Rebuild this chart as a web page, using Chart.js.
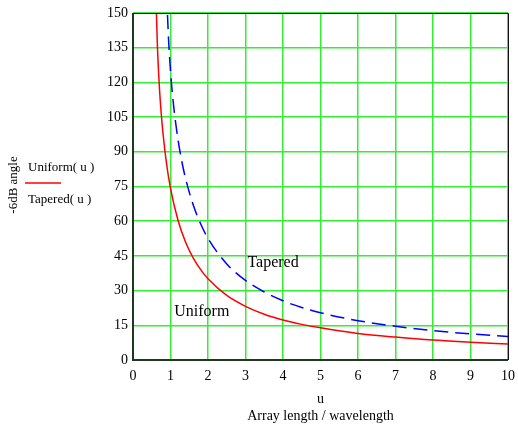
<!DOCTYPE html>
<html>
<head>
<meta charset="utf-8">
<script src="https://cdn.jsdelivr.net/npm/chart.js@4.4.1/dist/chart.umd.min.js"></script>
<style>
  html, body { margin: 0; padding: 0; background: #ffffff; }
  #wrap { width: 518px; height: 424px; }
</style>
</head>
<body>
<div id="wrap"><canvas id="beamChart" width="518" height="424"></canvas></div>
<script>
// values (u = array length / wavelength, angle in degrees)
const uniformU = [0.625, 0.65, 0.7, 0.75, 0.8, 0.9, 1.0, 1.2, 1.4, 1.6, 1.8, 2.0, 2.5, 3.0, 3.5, 4.0, 4.5, 5.0, 6.0, 7.0, 8.0, 9.0, 10.0];
const uniformDeg = [149.6, 136.2, 119.0, 107.1, 97.9, 84.2, 74.2, 60.4, 51.0, 44.3, 39.2, 35.1, 27.9, 23.2, 19.8, 17.3, 15.4, 13.9, 11.5, 9.9, 8.6, 7.7, 6.9];

const taperedU = [0.92, 0.95, 1.0, 1.05, 1.1, 1.2, 1.3, 1.4, 1.6, 1.8, 2.0, 2.5, 3.0, 3.5, 4.0, 4.5, 5.0, 6.0, 7.0, 8.0, 9.0, 10.0];
const taperedDeg = [149.1, 138.0, 124.9, 115.2, 107.4, 95.3, 86.0, 78.6, 67.3, 59.0, 52.6, 41.5, 34.4, 29.4, 25.6, 22.7, 20.4, 17.0, 14.6, 12.7, 11.3, 10.2];

const xTicks = [0, 1, 2, 3, 4, 5, 6, 7, 8, 9, 10];
const yTicks = [0, 15, 30, 45, 60, 75, 90, 105, 120, 135, 150];

const serif = '"Liberation Serif", "Times New Roman", serif';

function toPoints(xs, ys) {
    return xs.map((x, i) => ({ x: x, y: ys[i] }));
}

const extras = {
    id: 'extras',
    afterDraw(chart) {
        const ctx = chart.ctx;
        const a = chart.chartArea;
        const xs = chart.scales.x;
        const ys = chart.scales.y;
        ctx.save();

        // frame: top and right thin, left/bottom heavier
        ctx.strokeStyle = '#111111';
        ctx.lineWidth = 1;
        ctx.beginPath();
        ctx.moveTo(a.left, a.top + 0.5);
        ctx.lineTo(a.right + 0.5, a.top + 0.5);
        ctx.lineTo(a.right + 0.5, a.bottom);
        ctx.stroke();
        ctx.strokeStyle = '#1e3a1e';
        ctx.lineWidth = 2;
        ctx.beginPath();
        ctx.moveTo(a.left, a.top);
        ctx.lineTo(a.left, a.bottom);
        ctx.lineTo(a.right, a.bottom);
        ctx.stroke();

        ctx.fillStyle = '#000000';
        ctx.font = '16px ' + serif;
        ctx.textBaseline = 'middle';
        ctx.textAlign = 'left';
        ctx.fillText('Tapered', xs.getPixelForValue(3.05), ys.getPixelForValue(42));
        ctx.fillText('Uniform', xs.getPixelForValue(1.1), ys.getPixelForValue(21));

        // x title
        ctx.textAlign = 'center';
        ctx.font = '14px ' + serif;
        const cx = (a.left + a.right) / 2;
        ctx.fillText('u', cx, 399);
        ctx.fillText('Array length / wavelength', cx, 416);

        // y title
        ctx.font = '13px ' + serif;
        ctx.save();
        ctx.translate(14, 185);
        ctx.rotate(-Math.PI / 2);
        ctx.fillText('-6dB angle', 0, 0);
        ctx.restore();

        // legend
        ctx.textAlign = 'left';
        ctx.fillText('Uniform( u )', 28, 168);
        ctx.fillText('Tapered( u )', 28, 200);
        ctx.strokeStyle = '#ff0000';
        ctx.lineWidth = 1.5;
        ctx.beginPath();
        ctx.moveTo(25, 183);
        ctx.lineTo(61, 183);
        ctx.stroke();

        ctx.restore();
    }
};

new Chart(document.getElementById('beamChart'), {
    type: 'line',
    data: {
        datasets: [
            {
                label: 'Uniform(u)',
                data: toPoints(uniformU, uniformDeg),
                borderColor: '#ff0000',
                borderWidth: 1.5,
                pointRadius: 0,
                cubicInterpolationMode: 'monotone',
                fill: false
            },
            {
                label: 'Tapered(u)',
                data: toPoints(taperedU, taperedDeg),
                borderColor: '#0000ff',
                borderWidth: 1.5,
                borderDash: [14, 7],
                pointRadius: 0,
                cubicInterpolationMode: 'monotone',
                fill: false
            }
        ]
    },
    options: {
        responsive: false,
        animation: false,
        layout: { padding: { top: 13, right: 10, left: 0, bottom: 0 } },
        plugins: {
            legend: { display: false },
            tooltip: { enabled: false }
        },
        scales: {
            x: {
                type: 'linear',
                min: 0,
                max: 10,
                afterBuildTicks: s => { s.ticks = xTicks.map(v => ({ value: v })); },
                afterFit: s => { s.height = 64; s.paddingRight = 0; s.paddingLeft = 0; },
                grid: { color: '#33ee33', lineWidth: 1.5, drawTicks: false },
                border: { display: false },
                ticks: { color: '#000000', font: { family: serif, size: 14 }, padding: 8, maxRotation: 0 }
            },
            y: {
                type: 'linear',
                min: 0,
                max: 150,
                afterBuildTicks: s => { s.ticks = yTicks.map(v => ({ value: v })); },
                afterFit: s => { s.width = 133; s.paddingTop = 0; s.paddingBottom = 0; },
                grid: { color: '#33ee33', lineWidth: 1.5, drawTicks: false },
                border: { display: false },
                ticks: { color: '#000000', font: { family: serif, size: 14 }, padding: 5 }
            }
        }
    },
    plugins: [extras]
});
</script>
</body>
</html>
